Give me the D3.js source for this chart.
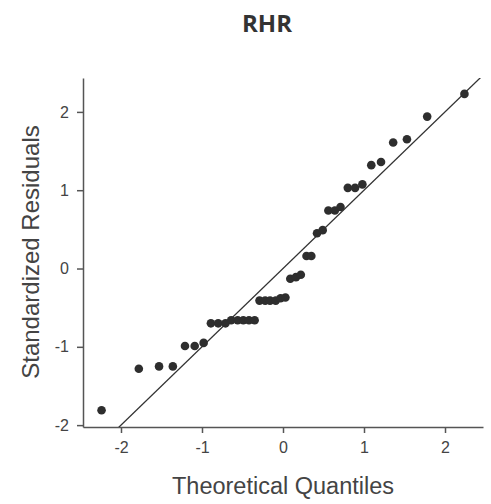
<!DOCTYPE html>
<html>
<head>
<meta charset="utf-8">
<script src="https://cdn.jsdelivr.net/npm/d3@7"></script>
<style>
  body { margin: 0; background: #fff; }
  svg { display: block; }
</style>
</head>
<body>
<div id="chart"></div>
<script>
const WIDTH = 491;
const HEIGHT = 504;

const title = "RHR";
const xLabel = "Theoretical Quantiles";
const yLabel = "Standardized Residuals";

// theoretical quantiles (x) and standardized residuals (y)
const theoretical = [
  -2.24, -1.78, -1.53, -1.36, -1.21, -1.09, -0.98, -0.89, -0.80, -0.71,
  -0.64, -0.56, -0.49, -0.42, -0.35, -0.29, -0.22, -0.16, -0.09, -0.03,
  0.03, 0.09, 0.16, 0.22, 0.29, 0.35, 0.42, 0.49, 0.56, 0.64,
  0.71, 0.80, 0.89, 0.98, 1.09, 1.21, 1.36, 1.53, 1.78, 2.24
];
const residuals = [
  -1.81, -1.28, -1.25, -1.25, -0.99, -0.99, -0.95, -0.70, -0.70, -0.70,
  -0.66, -0.66, -0.66, -0.66, -0.66, -0.41, -0.41, -0.41, -0.41, -0.38,
  -0.37, -0.13, -0.11, -0.08, 0.16, 0.16, 0.45, 0.49, 0.74, 0.74,
  0.785, 1.03, 1.03, 1.075, 1.32, 1.36, 1.61, 1.65, 1.94, 2.23
];
const xTicks = [-2, -1, 0, 1, 2];
const yTicks = [-2, -1, 0, 1, 2];

const svg = d3
  .select("#chart")
  .append("svg")
  .attr("width", WIDTH)
  .attr("height", HEIGHT);

const xScale = d3.scaleLinear().domain([-2.469, 2.469]).range([83, 483]);
const yScale = d3.scaleLinear().domain([-2.024, 2.433]).range([427, 78]);

svg
  .append("text")
  .attr("x", 267)
  .attr("y", 32)
  .attr("text-anchor", "middle")
  .style("font-family", "'Open Sans', 'Noto Sans', sans-serif")
  .style("font-weight", "bold")
  .style("font-size", "24px")
  .style("fill", "#333")
  .text(title);

function styleAxis(g) {
  g.select(".domain").attr("stroke", "#555").attr("stroke-width", 1.5);
  g.selectAll(".tick line").attr("stroke", "#555").attr("stroke-width", 1.5);
  g.selectAll(".tick text")
    .style("font-family", "'Liberation Sans', Arial, sans-serif")
    .style("font-size", "16px")
    .style("fill", "#444");
}

const xAxis = d3
  .axisBottom(xScale)
  .tickValues(xTicks)
  .tickSize(6)
  .tickSizeOuter(0)
  .tickPadding(9)
  .tickFormat(d3.format("d"));
svg
  .append("g")
  .attr("transform", "translate(0, 427)")
  .call(xAxis)
  .call(styleAxis);

const yAxis = d3
  .axisLeft(yScale)
  .tickValues(yTicks)
  .tickSize(6)
  .tickSizeOuter(0)
  .tickPadding(8)
  .tickFormat(d3.format("d"));
svg
  .append("g")
  .attr("transform", "translate(83, 0)")
  .call(yAxis)
  .call(styleAxis);

// use a plain hyphen for negative tick labels
svg.selectAll(".tick text").text(d => String(d));

svg
  .append("text")
  .attr("x", 283)
  .attr("y", 494)
  .attr("text-anchor", "middle")
  .style("font-family", "'Liberation Sans', Arial, sans-serif")
  .style("font-size", "23.5px")
  .style("fill", "#444")
  .text(xLabel);

svg
  .append("text")
  .attr("transform", "translate(39, 252) rotate(-90)")
  .attr("text-anchor", "middle")
  .style("font-family", "'Liberation Sans', Arial, sans-serif")
  .style("font-size", "24px")
  .style("fill", "#444")
  .text(yLabel);

// reference line y = x, clipped to the plot area
svg
  .append("clipPath")
  .attr("id", "plot-clip")
  .append("rect")
  .attr("x", 83)
  .attr("y", 78)
  .attr("width", 400)
  .attr("height", 349);

const lineEnds = [-2.469, 2.469];
svg
  .append("line")
  .attr("clip-path", "url(#plot-clip)")
  .attr("x1", xScale(lineEnds[0]))
  .attr("y1", yScale(lineEnds[0]))
  .attr("x2", xScale(lineEnds[1]))
  .attr("y2", yScale(lineEnds[1]))
  .attr("stroke", "#333")
  .attr("stroke-width", 1.3);

svg
  .selectAll("circle")
  .data(theoretical)
  .enter()
  .append("circle")
  .attr("cx", d => xScale(d))
  .attr("cy", (d, i) => yScale(residuals[i]))
  .attr("r", 4.3)
  .attr("fill", "#2e2e2e");
</script>
</body>
</html>
